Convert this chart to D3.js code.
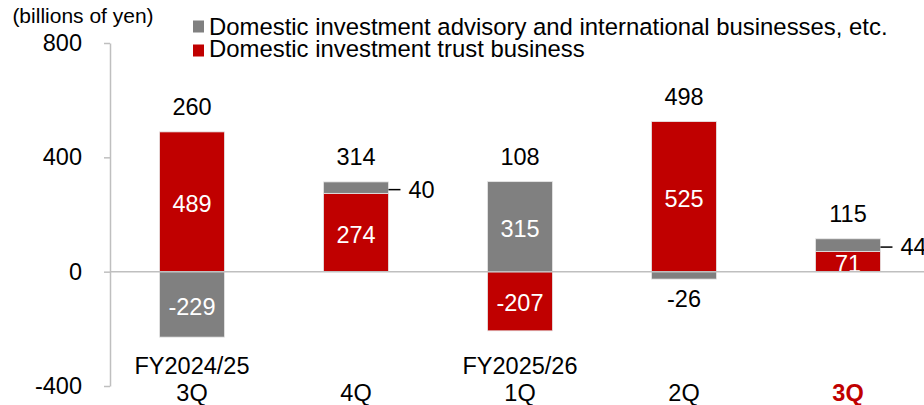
<!DOCTYPE html>
<html>
<head>
<meta charset="utf-8">
<script src="https://cdn.jsdelivr.net/npm/d3@7"></script>
<style>
  html, body { margin: 0; padding: 0; background: #fff; }
  svg text { font-family: "Liberation Sans", Arial, sans-serif; }
</style>
</head>
<body>
<svg id="chart" width="924" height="405"></svg>
<script>
// Net inflows by quarter, billions of yen
const periods = ['FY2024/25 3Q', 'FY2024/25 4Q', 'FY2025/26 1Q', 'FY2025/26 2Q', 'FY2025/26 3Q'];
const yearLabels = ['FY2024/25', '', 'FY2025/26', '', ''];
const quarterLabels = ['3Q', '4Q', '1Q', '2Q', '3Q'];
const trustValues = [489, 274, -207, 525, 71];      // Domestic investment trust business
const advisoryValues = [-229, 40, 315, -26, 44];    // Domestic investment advisory and international businesses, etc.
const totals = [260, 314, 108, 498, 115];
const yTicks = [-400, 0, 400, 800];

const RED = '#c00000', GREY = '#808080', AXIS = '#bfbfbf';
const FS = 23.5;

(function(){
  const svg = d3.select('#chart');

  const x = d3.scaleBand()
    .domain(periods)
    .range([110, 930])
    .paddingInner(0.604)
    .paddingOuter(0.302);

  const y = d3.scaleLinear().domain([-400, 800]).range([386, 43]);

  // y axis (ticks on the left, line in light grey)
  const yAxis = svg.append('g')
    .attr('transform', 'translate(110,0)')
    .call(d3.axisLeft(y).tickValues(yTicks).tickFormat(d => String(d))
      .tickSize(6).tickPadding(22).tickSizeOuter(0));
  yAxis.select('.domain').attr('stroke', AXIS).attr('stroke-width', 1.5);
  yAxis.selectAll('.tick line').attr('stroke', AXIS).attr('stroke-width', 1.5);
  yAxis.selectAll('.tick text')
    .attr('font-size', FS)
    .attr('fill', '#000')
    .style('font-family', '"Liberation Sans", Arial, sans-serif');

  svg.append('text')
    .attr('x', 83).attr('y', 23)
    .attr('text-anchor', 'middle')
    .attr('font-size', 21)
    .text('(billions of yen)');

  // stack: positives go up from 0, negatives go down from 0
  const segs = [];
  periods.forEach((p, i) => {
    let pos = 0, neg = 0;
    [{ key: 'trust', v: trustValues[i], color: RED },
     { key: 'advisory', v: advisoryValues[i], color: GREY }].forEach(s => {
      let y0, y1;
      if (s.v >= 0) { y0 = pos; y1 = pos + s.v; pos = y1; }
      else { y0 = neg; y1 = neg + s.v; neg = y1; }
      segs.push({ period: p, i, key: s.key, v: s.v, color: s.color, lo: Math.min(y0, y1), hi: Math.max(y0, y1) });
    });
  });

  const defs = svg.append('defs');
  segs.forEach((d, k) => {
    d.clip = 'seg-clip-' + k;
    defs.append('clipPath').attr('id', d.clip)
      .append('rect')
      .attr('x', x(d.period)).attr('width', x.bandwidth())
      .attr('y', y(d.hi)).attr('height', y(d.lo) - y(d.hi));
  });

  const g = svg.append('g');
  g.selectAll('rect.seg')
    .data(segs)
    .enter()
    .append('rect')
    .attr('class', 'seg')
    .attr('x', d => x(d.period))
    .attr('width', x.bandwidth())
    .attr('y', d => y(d.hi))
    .attr('height', d => y(d.lo) - y(d.hi))
    .attr('fill', d => d.color)
    .attr('stroke', '#e6e6e6')
    .attr('stroke-width', 0.8);

  // segment labels
  segs.forEach(d => {
    const h = y(d.lo) - y(d.hi);
    const cx = x(d.period) + x.bandwidth() / 2;
    const cy = (y(d.lo) + y(d.hi)) / 2;
    if (h >= 18) {
      g.append('text')
        .attr('x', cx).attr('y', cy + 2)
        .attr('dy', '0.35em')
        .attr('text-anchor', 'middle')
        .attr('font-size', FS)
        .attr('fill', '#fff')
        .attr('clip-path', `url(#${d.clip})`)
        .text(d.v);
    } else if (d.v >= 0) {
      const xr = x(d.period) + x.bandwidth();
      g.append('line')
        .attr('x1', xr).attr('x2', xr + 12)
        .attr('y1', cy + 2).attr('y2', cy + 2)
        .attr('stroke', '#000').attr('stroke-width', 1.5);
      g.append('text')
        .attr('x', xr + 20).attr('y', cy + 2)
        .attr('dy', '0.35em')
        .attr('font-size', FS)
        .text(d.v);
    } else {
      g.append('text')
        .attr('x', cx).attr('y', y(d.lo) + 20)
        .attr('dy', '0.35em')
        .attr('text-anchor', 'middle')
        .attr('font-size', FS)
        .text(d.v);
    }
  });

  // totals above the positive stack
  g.selectAll('text.total')
    .data(periods)
    .enter()
    .append('text')
    .attr('class', 'total')
    .attr('x', p => x(p) + x.bandwidth() / 2)
    .attr('y', (p, i) => y(Math.max(0, trustValues[i]) + Math.max(0, advisoryValues[i])) - 25)
    .attr('dy', '0.35em')
    .attr('text-anchor', 'middle')
    .attr('font-size', FS)
    .text((p, i) => totals[i]);

  // zero line
  svg.append('line')
    .attr('x1', 110).attr('x2', 924)
    .attr('y1', y(0)).attr('y2', y(0))
    .attr('stroke', AXIS).attr('stroke-width', 1.5);

  // category labels
  const cat = svg.append('g');
  cat.selectAll('text.yr')
    .data(periods)
    .enter()
    .append('text')
    .attr('x', p => x(p) + x.bandwidth() / 2)
    .attr('y', 366)
    .attr('dy', '0.35em')
    .attr('text-anchor', 'middle')
    .attr('font-size', FS)
    .text((p, i) => yearLabels[i]);
  cat.selectAll('text.q')
    .data(periods)
    .enter()
    .append('text')
    .attr('x', p => x(p) + x.bandwidth() / 2)
    .attr('y', 393)
    .attr('dy', '0.35em')
    .attr('text-anchor', 'middle')
    .attr('font-size', FS)
    .attr('font-weight', (p, i) => i === periods.length - 1 ? 'bold' : null)
    .attr('fill', (p, i) => i === periods.length - 1 ? RED : '#000')
    .text((p, i) => quarterLabels[i]);

  // legend
  const legendItems = [
    { label: 'Domestic investment advisory and international businesses, etc.', color: GREY },
    { label: 'Domestic investment trust business', color: RED }
  ];
  const lg = svg.append('g').attr('transform', 'translate(193,0)');
  legendItems.forEach((it, i) => {
    const cy = 26.5 + i * 22.5;
    lg.append('rect')
      .attr('x', 0).attr('y', cy - 6 + i * 1.5)
      .attr('width', 11).attr('height', 12)
      .attr('fill', it.color);
    lg.append('text')
      .attr('x', 16).attr('y', cy)
      .attr('dy', '0.35em')
      .attr('font-size', 23.9)
      .text(it.label);
  });
})();
</script>
</body>
</html>
